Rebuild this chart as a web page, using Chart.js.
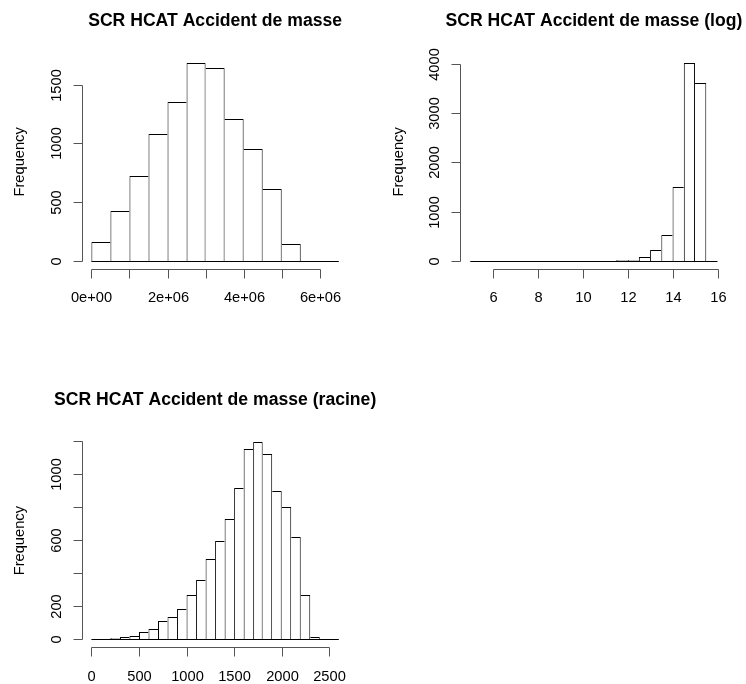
<!DOCTYPE html>
<html>
<head>
<meta charset="utf-8">
<title>SCR HCAT Accident de masse</title>
<script src="https://cdn.jsdelivr.net/npm/chart.js@4.4.1/dist/chart.umd.min.js"></script>
<style>
  html, body { margin: 0; padding: 0; background: #fff; }
  #page { position: relative; width: 746px; height: 684px; overflow: hidden; }
  canvas { position: absolute; }
  #histBrut { left: 0; top: 0; }
  #histLog { left: 373px; top: 0; }
  #histRacine { left: 0; top: 342px; }
</style>
</head>
<body>
<div id="page">
  <canvas id="histBrut" width="373" height="342"></canvas>
  <canvas id="histLog" width="373" height="342"></canvas>
  <canvas id="histRacine" width="400" height="342"></canvas>
</div>
<script>
"use strict"

// SCR brut : classes de 500 000
const brutBreaks = [0, 5e5, 1e6, 1.5e6, 2e6, 2.5e6, 3e6, 3.5e6, 4e6, 4.5e6, 5e6, 5.5e6, 6e6, 6.5e6];
const brutCounts = [155, 423, 724, 1077, 1349, 1684, 1639, 1207, 951, 608, 140, 0, 0];
const brutTicksX = [0, 1e6, 2e6, 3e6, 4e6, 5e6, 6e6];
const brutLabelsX = ["0e+00", "", "2e+06", "", "4e+06", "", "6e+06"];
const brutTicksY = [0, 500, 1000, 1500];
const brutLabelsY = ["0", "500", "1000", "1500"];

// SCR en log : classes de 0.5
const logBreaks = [5, 5.5, 6, 6.5, 7, 7.5, 8, 8.5, 9, 9.5, 10, 10.5, 11, 11.5, 12, 12.5, 13, 13.5, 14, 14.5, 15, 15.5, 16];
const logCounts = [1, 0, 0, 0, 0, 0, 0, 0, 0, 0, 0, 1, 2, 8, 15, 68, 211, 516, 1494, 4019, 3605, 0];
const logTicksX = [6, 8, 10, 12, 14, 16];
const logLabelsX = ["6", "8", "10", "12", "14", "16"];
const logTicksY = [0, 1000, 2000, 3000, 4000];
const logLabelsY = ["0", "1000", "2000", "3000", "4000"];

// SCR en racine : classes de 100
const racBreaks = [0, 100, 200, 300, 400, 500, 600, 700, 800, 900, 1000, 1100, 1200, 1300, 1400, 1500, 1600, 1700, 1800, 1900, 2000, 2100, 2200, 2300, 2400, 2500, 2600];
const racCounts = [1, 0, 5, 16, 17, 44, 60, 109, 133, 185, 268, 361, 485, 594, 725, 914, 1148, 1192, 1122, 894, 800, 620, 268, 16, 0, 0];
const racTicksX = [0, 500, 1000, 1500, 2000, 2500];
const racLabelsX = ["0", "500", "1000", "1500", "2000", "2500"];
const racTicksY = [0, 200, 400, 600, 800, 1000, 1200];
const racLabelsY = ["0", "200", "", "600", "", "1000", ""];

const POLICE = '"Liberation Sans", Arial, sans-serif';
const TRAIT = "#555";

// axes façon R : lignes limitées aux graduations, étiquettes Y tournées
const axesR = {
  id: "axesR",
  afterDatasetsDraw(chart, args, o) {
    const {ctx, chartArea: zone, scales: {x, y}} = chart;
    const net = v => Math.round(v) + 0.5;
    ctx.save();

    // ligne de base des classes (barres vides comprises)
    const y0 = net(y.getPixelForValue(0));
    ctx.strokeStyle = "#000";
    ctx.lineWidth = 1;
    ctx.beginPath();
    ctx.moveTo(x.getPixelForValue(o.breaks[0]), y0);
    ctx.lineTo(x.getPixelForValue(o.breaks[o.breaks.length - 1]), y0);
    ctx.stroke();

    ctx.strokeStyle = TRAIT;
    // axe X
    const bas = net(zone.bottom);
    const px = x.ticks.map(t => net(x.getPixelForValue(t.value)));
    ctx.beginPath();
    ctx.moveTo(px[0], bas);
    ctx.lineTo(px[px.length - 1], bas);
    px.forEach(p => { ctx.moveTo(p, bas); ctx.lineTo(p, bas + 9); });
    ctx.stroke();

    // axe Y
    const gauche = net(zone.left);
    const py = y.ticks.map(t => net(y.getPixelForValue(t.value)));
    ctx.beginPath();
    ctx.moveTo(gauche, py[0]);
    ctx.lineTo(gauche, py[py.length - 1]);
    py.forEach(p => { ctx.moveTo(gauche, p); ctx.lineTo(gauche - 9, p); });
    ctx.stroke();

    ctx.fillStyle = "#000";
    ctx.font = "14.67px " + POLICE;
    ctx.textAlign = "center";
    ctx.textBaseline = "alphabetic";
    px.forEach((p, i) => ctx.fillText(o.xLabels[i], p, zone.bottom + 33.5));
    py.forEach((p, i) => {
      if (!o.yLabels[i]) return;
      ctx.save();
      ctx.translate(zone.left - 21, p);
      ctx.rotate(-Math.PI / 2);
      ctx.fillText(o.yLabels[i], 0, 0);
      ctx.restore();
    });

    // titre de l'axe Y
    ctx.save();
    ctx.translate(zone.left - 57.3, (zone.top + zone.bottom) / 2);
    ctx.rotate(-Math.PI / 2);
    ctx.fillText("Frequency", 0, 0);
    ctx.restore();

    // titre principal
    ctx.font = "bold 17.6px " + POLICE;
    ctx.fillText(o.title, (zone.left + zone.right) / 2, zone.top - 29);
    ctx.restore();
  }
};

// contour des barres : le côté commun est tracé par la barre la plus haute
function contour(counts, i) {
  const c = counts[i];
  const avant = i > 0 ? counts[i - 1] : 0;
  const apres = i < counts.length - 1 ? counts[i + 1] : 0;
  return {top: 1, bottom: 0, left: c >= avant ? 1 : 0, right: c > apres ? 1 : 0};
}

function histogramme(id, breaks, counts, ticksX, labelsX, ticksY, labelsY, titre, zone) {
  const etendue = breaks[breaks.length - 1] - breaks[0];
  const sommet = Math.max(...counts);

  new Chart(document.getElementById(id), {
    type: "bar",
    data: {
      datasets: [{
        data: counts.map((c, i) => ({x: (breaks[i] + breaks[i + 1]) / 2, y: c})),
        backgroundColor: "#fff",
        borderColor: "#000",
        borderWidth: ctx => contour(counts, ctx.dataIndex),
        borderSkipped: false,
        inflateAmount: 0,
        barPercentage: 1,
        categoryPercentage: 1
      }]
    },
    options: {
      responsive: false,
      animation: false,
      events: [],
      layout: {padding: zone},
      plugins: {
        legend: {display: false},
        tooltip: {enabled: false},
        axesR: {title: titre, breaks: breaks, xLabels: labelsX, yLabels: labelsY}
      },
      scales: {
        x: {
          type: "linear",
          display: false,
          offset: false,
          min: breaks[0] - 0.04 * etendue,
          max: breaks[breaks.length - 1] + 0.04 * etendue,
          ticks: {autoSkip: false},
          afterBuildTicks: s => { s.ticks = ticksX.map(v => ({value: v})); }
        },
        y: {
          type: "linear",
          display: false,
          alignToPixels: true,
          min: -0.04 * sommet,
          max: 1.04 * sommet,
          ticks: {autoSkip: false},
          afterBuildTicks: s => { s.ticks = ticksY.map(v => ({value: v})); }
        }
      }
    },
    plugins: [axesR]
  });
}

histogramme("histBrut", brutBreaks, brutCounts, brutTicksX, brutLabelsX, brutTicksY, brutLabelsY,
  "SCR HCAT Accident de masse", {left: 81.5, right: 24.3, top: 55.1, bottom: 73.4});
histogramme("histLog", logBreaks, logCounts, logTicksX, logLabelsX, logTicksY, logLabelsY,
  "SCR HCAT Accident de masse (log)", {left: 87.4, right: 18.6, top: 55.1, bottom: 73.4});
histogramme("histRacine", racBreaks, racCounts, racTicksX, racLabelsX, racTicksY, racLabelsY,
  "SCR HCAT Accident de masse (racine)", {left: 81.5, right: 51.3, top: 92.1, bottom: 36.8});
</script>
</body>
</html>
